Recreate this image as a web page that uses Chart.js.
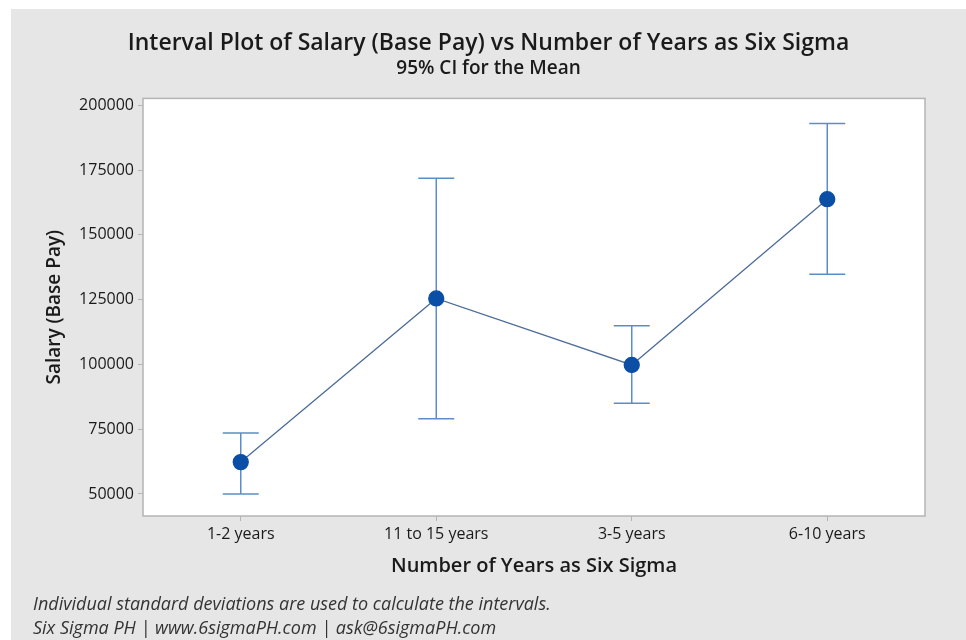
<!DOCTYPE html>
<html>
<head>
<meta charset="utf-8">
<script src="https://cdn.jsdelivr.net/npm/chart.js@4/dist/chart.umd.min.js"></script>
<style>
html,body{margin:0;padding:0;background:#fff;}
#wrap{position:relative;width:966px;height:640px;overflow:hidden;}
#bg{position:absolute;left:11px;top:9px;right:0;bottom:0;background:#e6e6e6;}
canvas{position:absolute;left:0;top:0;}
.foot{position:absolute;left:33px;font-family:"Open Sans",sans-serif;font-style:italic;font-size:18px;color:#333;white-space:nowrap;}
</style>
</head>
<body>
<div id="wrap">
<div id="bg"></div>
<canvas id="c" width="966" height="640"></canvas>
<div class="foot" style="top:591px;">Individual standard deviations are used to calculate the intervals.</div>
<div class="foot" style="top:615px;">Six Sigma PH | www.6sigmaPH.com | ask@6sigmaPH.com</div>
</div>
<script>
const categories = ["1-2 years", "11 to 15 years", "3-5 years", "6-10 years"];
const meanSalary = [62300, 125500, 99800, 163800];
const upperCI = [73500, 171900, 114900, 193000];
const lowerCI = [50000, 79000, 85000, 134800];
const yTicks = [50000, 75000, 100000, 125000, 150000, 175000, 200000];

const errorBars = {
  id: 'errorBars',
  beforeDatasetsDraw(chart) {
    const ctx = chart.ctx, x = chart.scales.x, y = chart.scales.y;
    const ca = chart.chartArea;
    ctx.save();
    ctx.fillStyle = '#ffffff';
    ctx.fillRect(ca.left, ca.top, ca.right - ca.left, ca.bottom - ca.top);
    ctx.strokeStyle = '#5b8ec8';
    ctx.lineWidth = 1.5;
    const half = 18;
    categories.forEach((c, i) => {
      const px = x.getPixelForValue(i);
      const yu = y.getPixelForValue(upperCI[i]);
      const yl = y.getPixelForValue(lowerCI[i]);
      ctx.beginPath();
      ctx.moveTo(px, yu); ctx.lineTo(px, yl);
      ctx.moveTo(px - half, yu); ctx.lineTo(px + half, yu);
      ctx.moveTo(px - half, yl); ctx.lineTo(px + half, yl);
      ctx.stroke();
    });
    ctx.restore();
  },
  afterDraw(chart) {
    const ctx = chart.ctx, ca = chart.chartArea;
    ctx.save();
    ctx.strokeStyle = '#b4b4b4';
    ctx.lineWidth = 1.5;
    ctx.strokeRect(ca.left, ca.top, ca.right - ca.left, ca.bottom - ca.top);
    ctx.restore();
  }
};

new Chart(document.getElementById('c'), {
  type: 'line',
  data: {
    labels: categories,
    datasets: [{
      data: meanSalary,
      borderColor: '#4d6c99',
      borderWidth: 1.3,
      pointBackgroundColor: '#0b4ea6',
      pointBorderColor: '#0b4ea6',
      pointRadius: 7.5,
      tension: 0,
      fill: false,
      yAxisID: 'y'
    }]
  },
  options: {
    responsive: false,
    animation: false,
    layout: { padding: { left: 11, right: 0, top: 0, bottom: 60 } },
    plugins: {
      legend: { display: false },
      tooltip: { enabled: false },
      title: {
        display: true,
        text: 'Interval Plot of Salary (Base Pay) vs Number of Years as Six Sigma',
        font: { family: 'Open Sans', size: 23, weight: '600' },
        color: '#1a1a1a',
        padding: { top: 30, bottom: 0 }
      },
      subtitle: {
        display: true,
        text: '95% CI for the Mean',
        font: { family: 'Open Sans', size: 19, weight: '600' },
        color: '#1a1a1a',
        padding: { top: 0, bottom: 18 }
      }
    },
    scales: {
      x: {
        type: 'category',
        offset: true,
        grid: { display: true, drawOnChartArea: false, drawTicks: true, tickLength: 5, color: '#b4b4b4' },
        border: { display: false },
        ticks: { font: { family: 'Open Sans', size: 16 }, color: '#1a1a1a', padding: 4 },
        title: {
          display: true,
          text: 'Number of Years as Six Sigma',
          font: { family: 'Open Sans', size: 20, weight: '600' },
          color: '#1a1a1a',
          padding: { top: 0, bottom: 2 }
        },
        afterFit(s) { s.height = 64; }
      },
      y: {
        min: 41500,
        max: 202700,
        grid: { display: true, drawOnChartArea: false, drawTicks: true, tickLength: 5, color: '#b4b4b4' },
        border: { display: false },
        afterBuildTicks(s) { s.ticks = yTicks.map(v => ({ value: v })); },
        ticks: {
          font: { family: 'Open Sans', size: 16 },
          color: '#1a1a1a',
          padding: 4,
          callback: v => String(v)
        },
        title: {
          display: true,
          text: 'Salary (Base Pay)',
          font: { family: 'Open Sans', size: 19, weight: '600' },
          color: '#1a1a1a',
          padding: { top: 32, bottom: 0 }
        },
        afterFit(s) { s.width = 132; }
      },
      yR: {
        position: 'right',
        display: true,
        grid: { display: false },
        border: { display: false },
        ticks: { display: false },
        afterFit(s) { s.width = 41; }
      }
    }
  },
  plugins: [errorBars]
});
</script>
</body>
</html>
